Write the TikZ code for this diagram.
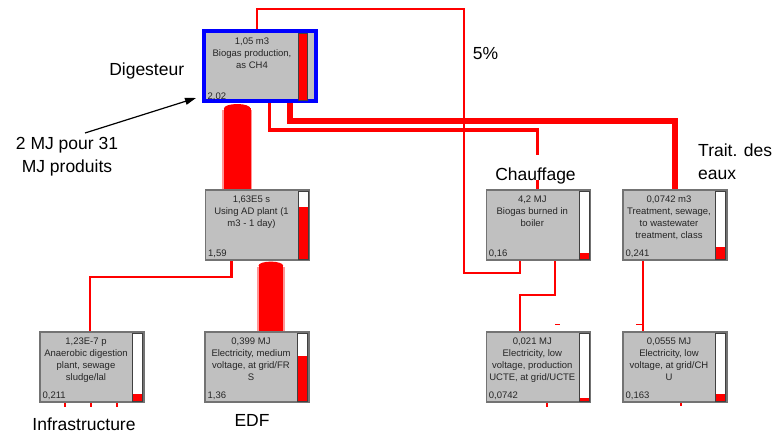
\documentclass[tikz,border=0pt]{standalone}
\usepackage{fontspec}
\setmainfont{Liberation Sans}
\usetikzlibrary{positioning, arrows.meta, calc, backgrounds}

\definecolor{boxgray}{RGB}{192,192,192}
\definecolor{flowpink}{RGB}{255,150,150}

% gauge bar on the right side of a process box: #1 node, #2 filled share
\newcommand{\lcabar}[2]{%
  \coordinate (#1-bt) at ([xshift=-2pt,yshift=-2pt]#1.north east);
  \coordinate (#1-bb) at ([xshift=-12pt,yshift=1.5pt]#1.south east);
  \fill[white] (#1-bb) rectangle (#1-bt);
  \fill[red] (#1-bb) rectangle ($(#1-bt |- #1-bb)!#2!(#1-bt)$);
  \draw[barframe] (#1-bb) rectangle (#1-bt);
}

\begin{document}
\begin{tikzpicture}[
    x=1pt, y=-1pt,
    proc/.style={draw=black!55, line width=1.2pt, fill=boxgray,
                 minimum width=104pt, minimum height=70pt, inner sep=0pt},
    boxtxt/.style={font=\fontsize{9.5}{12}\selectfont, align=center,
                   inner sep=1pt, text=black!85},
    valtxt/.style={font=\fontsize{9.5}{11}\selectfont, inner sep=0pt, text=black!85},
    barframe/.style={draw=black!75, line width=0.8pt},
    flow/.style={draw=red, line width=#1, line join=miter},
    tick/.style={draw=red, line width=1.6pt},
    lbl/.style={font=\fontsize{17.5}{23}\selectfont, inner sep=1pt},
]
\useasboundingbox (0,0) rectangle (779,434);

% ── Biogas production (selected process) ─────────────────────────────────
\node[proc, draw=blue, line width=4pt, minimum width=112pt] (biogas) at (260,66) {};
\fill[red] ([xshift=-19.5pt,yshift=-4pt]biogas.north east)
    rectangle ([xshift=-10.5pt,yshift=3pt]biogas.south east);
\draw[barframe] ([xshift=-19.5pt,yshift=-4pt]biogas.north east)
    rectangle ([xshift=-10.5pt,yshift=3pt]biogas.south east);
\node[boxtxt, anchor=north] (biogas-txt) at ([xshift=-8pt,yshift=-8pt]biogas.north)
    {1,05 m3\\Biogas production,\\as CH4};
\node[valtxt, anchor=base west] (biogas-val) at ([xshift=5.5pt,yshift=4pt]biogas.south west) {2,02};

% ── Other process boxes ───────────────────────────────────────────────────
\foreach \nm/\cx/\cy/\fr/\val/\txt in {
    adplant/257.5/225/0.77/{1,59}/{1,63E5 s\\Using AD plant (1\\m3 - 1 day)},
    infra/92/367/0.105/{0,211}/{1,23E-7 p\\Anaerobic digestion\\plant, sewage\\sludge/lal},
    edf/257/367/0.66/{1,36}/{0,399 MJ\\Electricity, medium\\voltage, at grid/FR\\S},
    boiler/538.3/225/0.094/{0,16}/{4,2 MJ\\Biogas burned in\\boiler},
    treat/675/225/0.18/{0,241}/{0,0742 m3\\Treatment, sewage,\\to wastewater\\treatment, class},
    ucte/538.3/367/0.05/{0,0742}/{0,021 MJ\\Electricity, low\\voltage, production\\UCTE, at grid/UCTE},
    chelec/675/367/0.10/{0,163}/{0,0555 MJ\\Electricity, low\\voltage, at grid/CH\\U}} {
    \node[proc] (\nm) at (\cx,\cy) {};
    \node[boxtxt, anchor=north] (\nm-txt) at ([xshift=-6pt,yshift=-5pt]\nm.north) {\txt};
    \node[valtxt, anchor=base west] (\nm-val) at ([xshift=3pt,yshift=4.5pt]\nm.south west) {\val};
    \lcabar{\nm}{\fr}
}

% ── Flows (behind the boxes) ──────────────────────────────────────────────
\begin{scope}[on background layer]
    % wide band: biogas -> AD plant
    \coordinate (bandA) at ([xshift=32.3pt]adplant.north west);
    \fill[flowpink] ($(bandA |- biogas.south)+(-15,7)$) rectangle ($(bandA)+(15,0)$);
    \fill[red] ($(bandA |- biogas.south)+(-13.3,5)$) rectangle ($(bandA)+(13.3,0)$);
    \fill[red] ($(bandA |- biogas.south)+(0,5.5)$) ellipse [x radius=13.3pt, y radius=4.5pt];

    % wide band: AD plant -> electricity FR
    \coordinate (bandB) at ([xshift=66.4pt]edf.north west);
    \fill[flowpink] ($(bandB |- adplant.south)+(-14,6.5)$) rectangle ($(bandB)+(14,0)$);
    \fill[red] ($(bandB |- adplant.south)+(-12.3,4.5)$) rectangle ($(bandB)+(12.3,0)$);
    \fill[red] ($(bandB |- adplant.south)+(0,5)$) ellipse [x radius=12.3pt, y radius=4pt];

    % lines
    \draw[flow=3.3pt] ([xshift=9.3pt]biogas.south) -- ++(0,27) -| ([xshift=-1pt]boiler.north);
    \draw[flow=6pt] ([xshift=29.5pt]biogas.south) -- ++(0,17.7) -| (treat.north);
    \draw[flow=2.3pt] ([xshift=-3.3pt]biogas.north) -- ++(0,-20) -| ++(207.6,264)
        -| ([xshift=-18.3pt]boiler.south);
    \draw[flow=2pt] ([xshift=16.7pt]boiler.south) -- ++(0,34.4) -| ([xshift=-18.3pt]ucte.north);
    \draw[flow=2pt] ([xshift=-32.3pt]treat.south) -- ([xshift=-32.3pt]chelec.north);
    \draw[flow=2.7pt] ([xshift=-25.8pt]adplant.south) -- ++(0,16.4) -| ([xshift=-2pt]infra.north);

    % stubs
    \draw[tick] ([xshift=16.7pt,yshift=7pt]ucte.north) -- ++(5,0);
    \draw[tick] ([xshift=-32.3pt,yshift=7pt]chelec.north) -- ++(-7,0);
    \foreach \dx in {-27,-1,25} { \draw[tick] ([xshift=\dx pt]infra.south) -- ++(0,4); }
    \draw[tick] ([xshift=8.7pt]ucte.south) -- ++(0,4);
    \draw[tick] ([xshift=6pt]chelec.south) -- ++(0,3);
\end{scope}

% ── Labels ────────────────────────────────────────────────────────────────
\node[lbl, anchor=base] (digest) at (146.7,75) {Digesteur};
\node[lbl, anchor=base] (share) at (485.5,59.5) {5\%};
\node[lbl, anchor=base, fill=white, inner sep=0pt, inner xsep=2pt,
      text height=25pt, text depth=0pt] (chauffage) at (535.5,180) {Chauffage};
\node[lbl, anchor=north west, align=left] (traitement) at (697,143) {Trait. des\\eaux};
\node[lbl, anchor=north, align=center] (mjnote) at (67,136) {2 MJ pour 31\\MJ produits};
\node[lbl, anchor=base] (infralbl) at (84,430) {Infrastructure};
\node[lbl, anchor=base] (edflbl) at (252,426.7) {EDF};

\draw[-{Triangle[length=11pt,width=7pt]}, line width=1.2pt]
    ([xshift=18pt,yshift=3pt]mjnote.north) -- ([xshift=-6pt,yshift=5pt]biogas.south west);

\end{tikzpicture}
\end{document}
